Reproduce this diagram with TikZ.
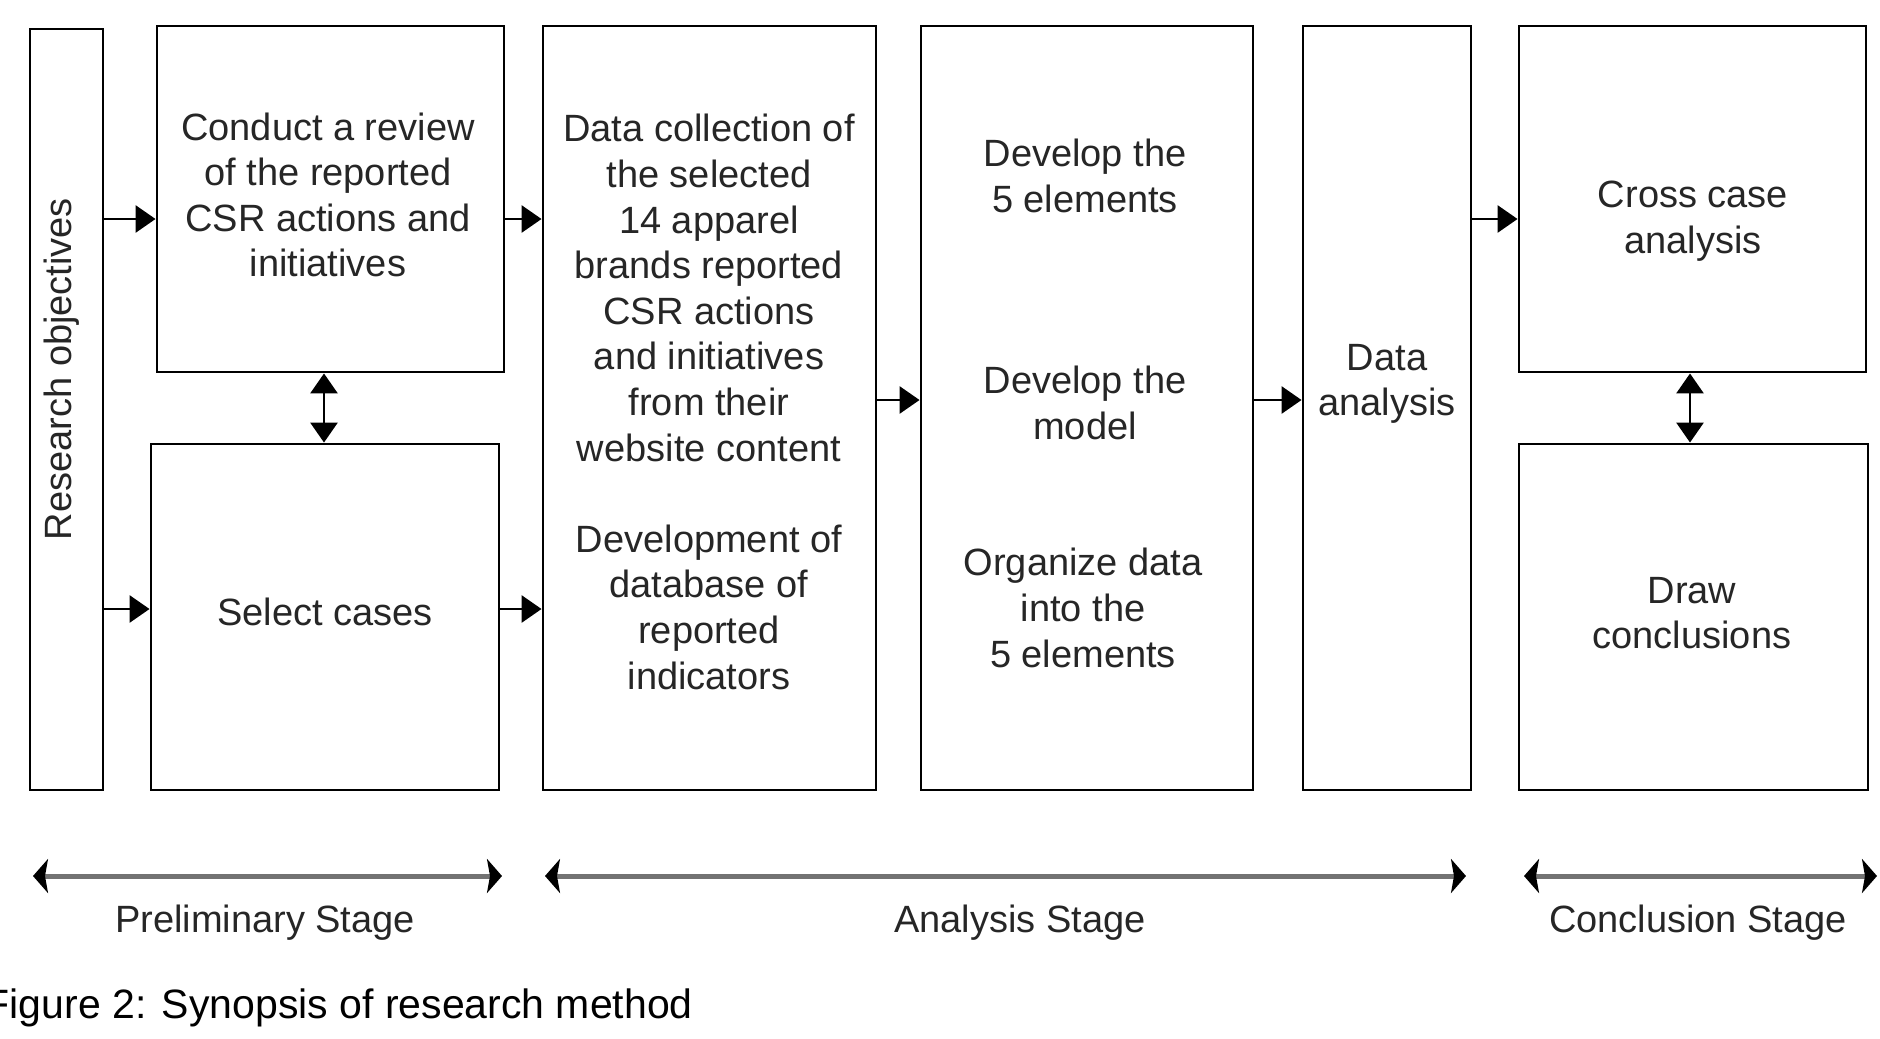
\documentclass[tikz,border=0pt]{standalone}
\usepackage{fontspec}
\setmainfont{Liberation Sans}
\usetikzlibrary{arrows.meta}
\begin{document}
\begin{tikzpicture}[x=1pt,y=-1pt,
  box/.style={draw=black,line width=2.9pt,inner sep=0pt,fill=white},
  txt/.style={align=center,inner sep=0pt,text=black!85,font=\fontsize{38}{45.6}\selectfont},
  conn/.style={line width=2.9pt,-{Triangle[length=20pt,width=27pt]}},
  dconn/.style={line width=2.9pt,{Triangle[length=20pt,width=27pt]}-{Triangle[length=20pt,width=27pt]}},
  stage/.style={line width=5pt,draw=black!55,{Stealth[length=15pt,width=34pt,black,inset=3pt]}-{Stealth[length=15pt,width=34pt,black,inset=3pt]}},
  stagetxt/.style={anchor=base,inner sep=0pt,text=black!85,font=\fontsize{38}{45.6}\selectfont}]
\useasboundingbox (0,0) rectangle (1880,1039);

% boxes
\node[box,minimum width=73pt,minimum height=761pt] (ro) at (66.5,409.5) {};
\node[box,minimum width=347pt,minimum height=346pt] (b1) at (330.5,199) {};
\node[box,minimum width=348pt,minimum height=346pt] (b2) at (325,617) {};
\node[box,minimum width=333pt,minimum height=764pt] (b3) at (709.5,408) {};
\node[box,minimum width=332pt,minimum height=764pt] (b4) at (1087,408) {};
\node[box,minimum width=168pt,minimum height=764pt] (b5) at (1387,408) {};
\node[box,minimum width=347pt,minimum height=346pt] (b6) at (1692.5,199) {};
\node[box,minimum width=349pt,minimum height=346pt] (b7) at (1693.5,617) {};

% texts
\node[txt,rotate=90] (tro) at (62,369) {Research objectives};
\node[txt] (t1) at (328,195) {Conduct a review\\of the reported\\CSR actions and\\initiatives};
\node[txt] (t2) at (325,612) {Select cases};
\node[txt] (t3) at (709,402) {Data collection of\\the selected\\14 apparel\\brands reported\\CSR actions\\and initiatives\\from their\\website content\\[45.6pt]Development of\\database of\\reported\\indicators};
\node[txt] (t4a) at (1085,176) {Develop the\\5 elements};
\node[txt] (t4b) at (1085,403) {Develop the\\model};
\node[txt] (t4c) at (1083,608) {Organize data\\into the\\5 elements};
\node[txt] (t5) at (1387,384) {Data\\analysis};
\node[txt] (t6) at (1693,221) {Cross case\\analysis};
\node[txt] (t7) at (1692,613) {Draw\\conclusions};

% connector levels
\coordinate (yA) at (0,219);
\coordinate (yB) at (0,609);
\coordinate (yC) at (0,400);
\coordinate (xA) at (324,0);
\coordinate (xB) at (1690,0);

\draw[conn] (ro.east |- yA) -- (b1.west |- yA);
\draw[conn] (ro.east |- yB) -- (b2.west |- yB);
\draw[conn] (b1.east |- yA) -- (b3.west |- yA);
\draw[conn] (b2.east |- yB) -- (b3.west |- yB);
\draw[conn] (b3.east |- yC) -- (b4.west |- yC);
\draw[conn] (b4.east |- yC) -- (b5.west |- yC);
\draw[conn] (b5.east |- yA) -- (b6.west |- yA);
\draw[dconn] (b1.south -| xA) -- (b2.north -| xA);
\draw[dconn] (b6.south -| xB) -- (b7.north -| xB);

% stage arrows
\coordinate (p1) at (33,876);
\coordinate (p2) at (502,876);
\coordinate (a1) at (545,876);
\coordinate (a2) at (1466,876);
\coordinate (c1) at (1524,876);
\coordinate (c2) at (1877,876);
\draw[stage] (p1) -- (p2);
\draw[stage] (a1) -- (a2);
\draw[stage] (c1) -- (c2);
\node[stagetxt] (sp) at (265,932) {Preliminary Stage};
\node[stagetxt] (sa) at (1020,932) {Analysis Stage};
\node[stagetxt] (sc) at (1698,932) {Conclusion Stage};

% caption
\node[anchor=base east,inner sep=0pt,text=black,font=\fontsize{41}{49}\selectfont] (cap) at (693,1018) {Figure 2: Synopsis of research method};
\end{tikzpicture}
\end{document}
